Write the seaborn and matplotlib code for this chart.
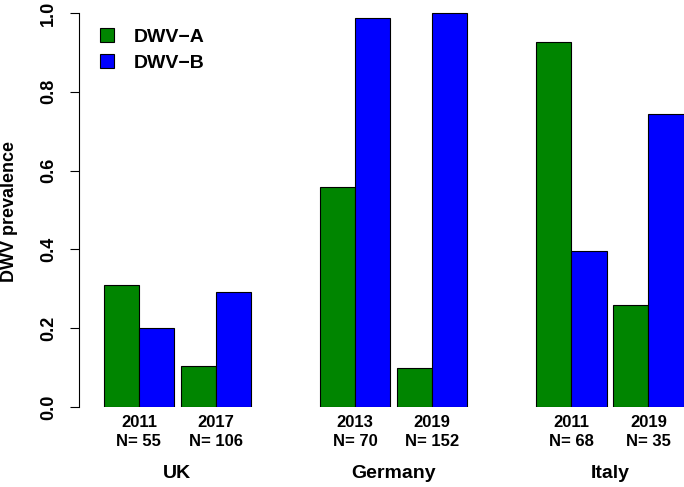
import pandas as pd
import seaborn as sns
import matplotlib
matplotlib.use("Agg")
import matplotlib.pyplot as plt
from matplotlib.patches import Patch
from matplotlib.transforms import blended_transform_factory

# data
countries = ["UK", "UK", "Germany", "Germany", "Italy", "Italy"]
years = ["2011", "2017", "2013", "2019", "2011", "2019"]
n_samples = [55, 106, 70, 152, 68, 35]
dwv_a = [0.31, 0.104, 0.558, 0.10, 0.927, 0.259]
dwv_b = [0.20, 0.292, 0.988, 1.0, 0.397, 0.744]
variants = ["DWV\u2212A", "DWV\u2212B"]
colors = ["#008500", "#0000ff"]

# bar layout (bar width = 1): small gap inside a country, wide gap between countries
inner_gap = 0.18
outer_gap = 1.95
pos = []
x = 1.0
for i, c in enumerate(countries):
    if i > 0:
        x += 2 + (inner_gap if c == countries[i - 1] else outer_gap)
    pos.append(x)

rows = []
for i in range(len(countries)):
    rows.append({"pos": pos[i], "variant": variants[0], "value": dwv_a[i]})
    rows.append({"pos": pos[i], "variant": variants[1], "value": dwv_b[i]})
df = pd.DataFrame(rows)

sns.set_style("white")
plt.rcParams["font.family"] = ["Liberation Sans", "DejaVu Sans"]
plt.rcParams["font.weight"] = "bold"
for k in ["text.color", "axes.labelcolor", "xtick.color", "ytick.color"]:
    plt.rcParams[k] = "black"

W, H = 684, 487
fig = plt.figure(figsize=(W / 100, H / 100), dpi=100)
ax = fig.add_axes([79.3 / W, 80 / H, (W - 79.3) / W, 407 / H])

sns.barplot(data=df, x="pos", y="value", hue="variant", hue_order=variants,
            palette=colors, saturation=1, native_scale=True,
            width=2 / (2 + inner_gap), edgecolor="black", linewidth=0.8,
            errorbar=None, legend=False, ax=ax)

ax.set_xlim(-0.69, 16.45)
ax.set_ylim(0, 1 + 13 / 394)

for s in ["top", "right", "bottom"]:
    ax.spines[s].set_visible(False)
ax.spines["left"].set_bounds(0, 1)
ax.spines["left"].set_linewidth(0.8)
ax.spines["left"].set_color("black")

yt = [0.0, 0.2, 0.4, 0.6, 0.8, 1.0]
ax.set_yticks(yt)
ax.set_yticklabels([f"{v:.1f}" for v in yt], rotation=90, va="center")
ax.tick_params(axis="y", left=True, length=6.5, width=0.8, pad=9.6,
               labelsize=13, color="black")

ax.set_xticks(pos)
ax.set_xticklabels([f"{y}\nN= {n}" for y, n in zip(years, n_samples)],
                   linespacing=1.3)
ax.tick_params(axis="x", length=0, pad=6.0, labelsize=12)
ax.set_xlabel("")

ax.set_ylabel("DWV prevalence", fontsize=13, fontweight="bold")
ax.yaxis.set_label_coords(-0.101, 0.48)

trans = blended_transform_factory(ax.transData, ax.transAxes)
seen = []
for c in countries:
    if c in seen:
        continue
    seen.append(c)
    xs = [p for p, cc in zip(pos, countries) if cc == c]
    ax.text(sum(xs) / len(xs), -0.163, c, transform=trans, ha="center",
            va="center", fontsize=14, fontweight="bold")

handles = [Patch(facecolor=col, edgecolor="black", linewidth=0.8) for col in colors]
ax.legend(handles, variants, loc="upper left", bbox_to_anchor=(100 / W, 1 - 28 / H),
          bbox_transform=fig.transFigure, frameon=False, borderpad=0,
          borderaxespad=0, handlelength=0.72, handleheight=0.72,
          handletextpad=1.0, labelspacing=0.42,
          prop={"size": 14, "weight": "bold"})

fig.savefig("out.png", dpi=100)
